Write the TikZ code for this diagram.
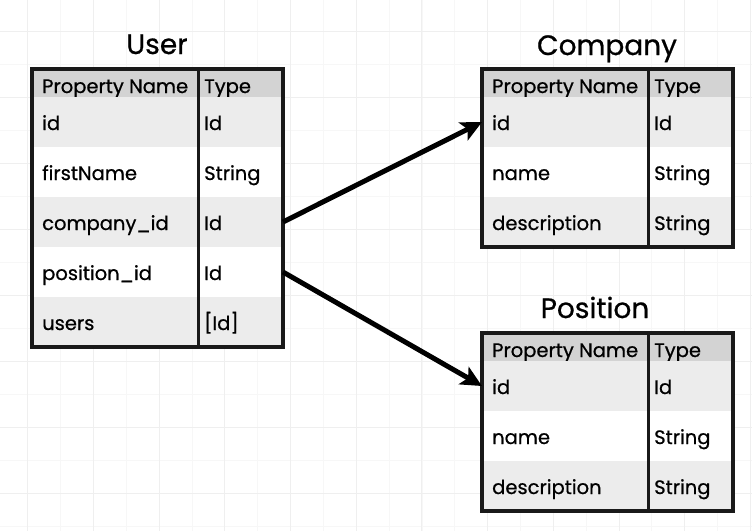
\documentclass[tikz,border=0pt]{standalone}
\usepackage{fontspec}
\setmainfont{Poppins}
\newfontfamily\cellfont{Poppins}[FakeBold=0.7]
\usetikzlibrary{arrows.meta}
\definecolor{hdrgray}{HTML}{D3D3D3}
\definecolor{rowgray}{HTML}{ECECEC}
\definecolor{gridmaj}{HTML}{EFEFEF}
\definecolor{gridmin}{HTML}{F7F7F7}
\newcommand\mkrow[8]{%
  \node[rowbox=#4, fill=#5] (#1) at (#2,#3) {};
  \node[cell] (#1-p) at ([xshift=10pt,yshift=-#8pt]#1.west) {#6};
  \node[cell] (#1-t) at ([xshift=172pt,yshift=-#8pt]#1.west) {#7};
}
\begin{document}
\begin{tikzpicture}[x=1pt,y=-1pt,
  rowbox/.style={draw=none, minimum width=251pt, minimum height=#1, inner sep=0pt, outer sep=0pt, anchor=north west},
  cell/.style={anchor=base west, inner sep=0pt, font=\cellfont\fontsize{19.5}{22}\selectfont, text=black},
  tabtitle/.style={anchor=base, inner sep=0pt, font=\cellfont\fontsize{28}{30}\selectfont, text=black},
  frame/.style={line width=3.5pt, draw=black!90},
  divider/.style={line width=3pt, draw=black!90},
  link/.style={line width=5pt, draw=black, -{Stealth[length=21pt,width=20pt,inset=5pt]}}
]
\useasboundingbox (0,0) rectangle (752,531);
\fill[white] (0,0) rectangle (752,531);
% background grid
\foreach \i in {-1,...,23} \draw[gridmin, line width=0.8pt] ({27.7+32.85*\i},0) -- ++(0,531);
\foreach \i in {-1,...,17} \draw[gridmin, line width=0.8pt] (0,{31+33*\i}) -- ++(752,0);
\foreach \i in {0,...,11} \draw[gridmaj, line width=1pt] ({27.7+65.7*\i},0) -- ++(0,531);
\foreach \i in {0,...,8} \draw[gridmaj, line width=1pt] (0,{31+66*\i}) -- ++(752,0);

% User
\node[tabtitle] (ut) at (157,54) {User};
\mkrow{uh}{32}{69}{28pt}{hdrgray}{Property Name}{Type}{10}
\mkrow{u1}{32}{97}{50pt}{rowgray}{id}{Id}{8}
\mkrow{u2}{32}{147}{50pt}{white}{firstName}{String}{8}
\mkrow{u3}{32}{197}{50pt}{rowgray}{company\_id}{Id}{8}
\mkrow{u4}{32}{247}{50pt}{white}{position\_id}{Id}{8}
\mkrow{u5}{32}{297}{50pt}{rowgray}{users}{[Id]}{8}
\draw[frame] (uh.north west) rectangle (u5.south east);
\draw[divider] ([xshift=166pt]uh.north west) -- ([xshift=166pt]u5.south west);

% Company
\node[tabtitle] (ct) at (607,55) {Company};
\mkrow{ch}{482}{69}{28pt}{hdrgray}{Property Name}{Type}{10}
\mkrow{c1}{482}{97}{50pt}{rowgray}{id}{Id}{8}
\mkrow{c2}{482}{147}{50pt}{white}{name}{String}{8}
\mkrow{c3}{482}{197}{50pt}{rowgray}{description}{String}{8}
\draw[frame] (ch.north west) rectangle (c3.south east);
\draw[divider] ([xshift=166pt]ch.north west) -- ([xshift=166pt]c3.south west);

% Position
\node[tabtitle] (pt) at (595,318) {Position};
\mkrow{ph}{482}{333}{28pt}{hdrgray}{Property Name}{Type}{10}
\mkrow{p1}{482}{361}{50pt}{rowgray}{id}{Id}{8}
\mkrow{p2}{482}{411}{50pt}{white}{name}{String}{8}
\mkrow{p3}{482}{461}{50pt}{rowgray}{description}{String}{8}
\draw[frame] (ph.north west) rectangle (p3.south east);
\draw[divider] ([xshift=166pt]ph.north west) -- ([xshift=166pt]p3.south west);

% links
\draw[link] (u3.east) -- (c1.west);
\draw[link] (u4.east) -- (p1.west);
\end{tikzpicture}
\end{document}
